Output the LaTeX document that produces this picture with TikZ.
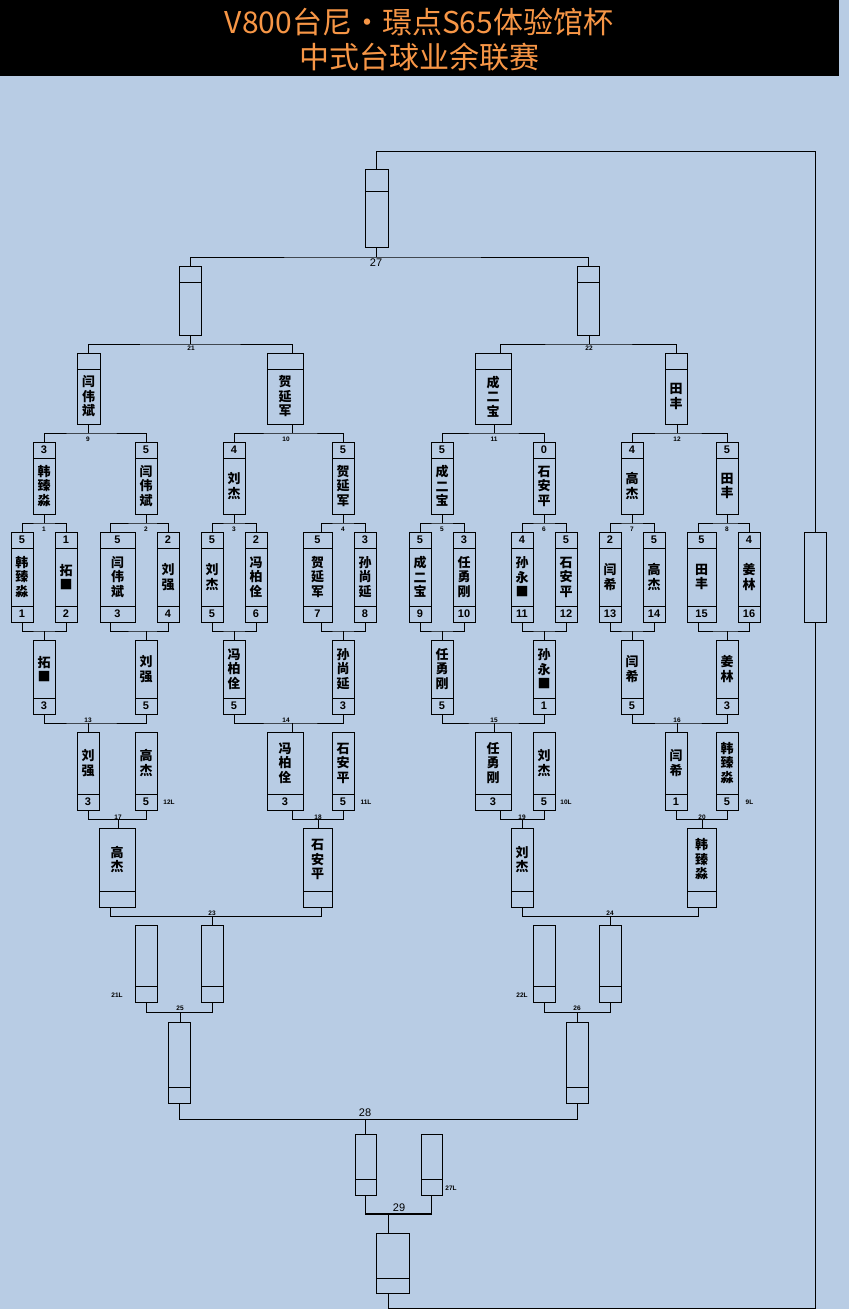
\documentclass[tikz,border=0pt]{standalone}
\usepackage{fontspec}
\setmainfont{Liberation Sans}
\newfontfamily\cjk{Noto Sans CJK SC}
\usetikzlibrary{positioning}
\definecolor{paleblue}{RGB}{184,204,228}
\definecolor{titleorange}{RGB}{247,150,70}

\begin{document}
\begin{tikzpicture}[
  x=1pt,y=-1pt,
  cell/.style={draw,line width=1pt,outer sep=0pt,inner sep=0pt,minimum height=16,font=\bfseries\fontsize{11}{12}\selectfont},
  who/.style={draw,line width=1pt,outer sep=0pt,inner sep=0pt,align=center,font=\cjk\bfseries\fontsize{13}{14.5}\selectfont},
  tag/.style={inner sep=0pt,font=\bfseries\fontsize{6.5}{7}\selectfont},
  bigtag/.style={inner sep=0pt,font=\fontsize{11}{12}\selectfont},
  headline/.style={inner sep=0pt,align=center,text=titleorange,font=\cjk\fontsize{30}{35}\selectfont},
  wire/.style={line width=1pt}
]
\useasboundingbox (0,0) rectangle (849,1309);
\fill[paleblue] (0,0) rectangle (849,1309);
\fill[black] (0,0) rectangle (839,76);
\node[headline] (head) at (419,39.5) {V800台尼•璟点S65体验馆杯\\中式台球业余联赛};

% first round: score / name / seed
\foreach \i/\xc/\w/\sc/\nm in {1/22/22/5/{韩\\臻\\淼},2/66/22/1/{拓\\■},3/117.5/35/5/{闫\\伟\\斌},4/168/22/2/{刘\\强},
  5/212/22/5/{刘\\杰},6/256/22/2/{冯\\柏\\佺},7/317.5/29/5/{贺\\延\\军},8/365/22/3/{孙\\尚\\延},
  9/420/22/5/{成\\二\\宝},10/464/22/3/{任\\勇\\刚},11/522/22/4/{孙\\永\\■},12/566/22/5/{石\\安\\平},
  13/610/22/2/{闫\\希},14/654/22/5/{高\\杰},15/701.5/29/5/{田\\丰},16/749/22/4/{姜\\林}}{
  \node[cell,minimum width=\w] (rs\i) at (\xc,540) {\sc};
  \node[who,minimum width=\w,minimum height=58,below=0pt of rs\i] (rn\i) {\nm};
  \node[cell,minimum width=\w,below=0pt of rn\i] (rd\i) {\i};
}

% winners side
\foreach \i/\xc/\sc/\nm in {1/44/3/{韩\\臻\\淼},2/146/5/{闫\\伟\\斌},3/234/4/{刘\\杰},4/343/5/{贺\\延\\军},
  5/442/5/{成\\二\\宝},6/544/0/{石\\安\\平},7/632/4/{高\\杰},8/727/5/{田\\丰}}{
  \node[cell,minimum width=22] (ws\i) at (\xc,450) {\sc};
  \node[who,minimum width=22,minimum height=56,below=0pt of ws\i] (wn\i) {\nm};
}
\foreach \i/\xc/\w/\nm in {9/88.5/23/{闫\\伟\\斌},10/285/36/{贺\\延\\军},11/493/36/{成\\二\\宝},12/676/22/{田\\丰}}{
  \node[cell,minimum width=\w] (ts\i) at (\xc,361) {};
  \node[who,minimum width=\w,minimum height=55,below=0pt of ts\i] (tn\i) {\nm};
}
\foreach \i/\xc in {21/190,22/588}{
  \node[cell,minimum width=22] (ss\i) at (\xc,274) {};
  \node[who,minimum width=22,minimum height=53,below=0pt of ss\i] (sn\i) {};
}
\node[cell,minimum width=23,minimum height=22] (cs) at (376.5,180) {};
\node[who,minimum width=23,minimum height=56,below=0pt of cs] (cn) {};
\node[who,minimum width=22,minimum height=90] (back) at (815,577) {};

% losers side: name / score
\foreach \i/\xc/\sc/\nm in {1/44/3/{拓\\■},2/146/5/{刘\\强},3/234/5/{冯\\柏\\佺},4/343/3/{孙\\尚\\延},
  5/442/5/{任\\勇\\刚},6/544/1/{孙\\永\\■},7/632/5/{闫\\希},8/727/3/{姜\\林}}{
  \node[who,minimum width=22,minimum height=58] (ln\i) at (\xc,669) {\nm};
  \node[cell,minimum width=22,below=0pt of ln\i] (lb\i) {\sc};
}
\foreach \i/\xc/\w/\sc/\nm in {1/88/22/3/{刘\\强},2/146/22/5/{高\\杰},3/285/36/3/{冯\\柏\\佺},4/343/22/5/{石\\安\\平},
  5/493/36/3/{任\\勇\\刚},6/544/22/5/{刘\\杰},7/676/22/1/{闫\\希},8/727/22/5/{韩\\臻\\淼}}{
  \node[who,minimum width=\w,minimum height=62] (mn\i) at (\xc,763) {\nm};
  \node[cell,minimum width=\w,below=0pt of mn\i] (mb\i) {\sc};
}
\foreach \i/\xc/\w/\nm in {1/117/36/{高\\杰},2/317.5/29/{石\\安\\平},3/522/22/{刘\\杰},4/701.5/29/{韩\\臻\\淼}}{
  \node[who,minimum width=\w,minimum height=63] (kn\i) at (\xc,859.5) {\nm};
  \node[cell,minimum width=\w,below=0pt of kn\i] (kb\i) {};
}
\foreach \i/\xc in {1/146,2/212,3/544,4/610}{
  \node[who,minimum width=22,minimum height=61] (qn\i) at (\xc,955.5) {};
  \node[cell,minimum width=22,below=0pt of qn\i] (qb\i) {};
}
\foreach \i/\xc in {1/179.5,2/577.5}{
  \node[who,minimum width=22,minimum height=65] (pn\i) at (\xc,1054.5) {};
  \node[cell,minimum width=22,below=0pt of pn\i] (pb\i) {};
}
\foreach \i/\xc in {1/365.5,2/431.5}{
  \node[who,minimum width=21,minimum height=45] (gn\i) at (\xc,1156.5) {};
  \node[cell,minimum width=21,below=0pt of gn\i] (gb\i) {};
}
\node[who,minimum width=33,minimum height=45] (zn) at (392.5,1255.5) {};
\node[cell,minimum width=33,minimum height=15,below=0pt of zn] (zb) {};

% match lines
\foreach \m/\a/\sa/\b/\sb/\p/\x/\y in {
  1/rs1.north/0/rs2.north/0/wn1.south/44/523, 2/rs3.north/-7.5/rs4.north/0/wn2.south/146/523,
  3/rs5.north/0/rs6.north/0/wn3.south/234/523, 4/rs7.north/3.5/rs8.north/0/wn4.south/343/523,
  5/rs9.north/0/rs10.north/0/wn5.south/442/523, 6/rs11.north/0/rs12.north/0/wn6.south/544/523,
  7/rs13.north/0/rs14.north/0/wn7.south/632/523, 8/rs15.north/-3.5/rs16.north/0/wn8.south/727/523,
  9/ws1.north/0/ws2.north/0/tn9.south/88/433, 10/ws3.north/0/ws4.north/0/tn10.south/292/433,
  11/ws5.north/0/ws6.north/0/tn11.south/494/433, 12/ws7.north/0/ws8.north/0/tn12.south/677/433,
  21/ts9.north/0/ts10.north/7/sn21.south/190/344, 22/ts11.north/7/ts12.north/0/sn22.south/589/344,
  27/ss21.north/0/ss22.north/0/cn.south/376/257,
  d1/rd1.south/0/rd2.south/0/ln1.north/44/631, d2/rd3.south/-7.5/rd4.south/0/ln2.north/146/631,
  d3/rd5.south/0/rd6.south/0/ln3.north/234/631, d4/rd7.south/3.5/rd8.south/0/ln4.north/343/631,
  d5/rd9.south/0/rd10.south/0/ln5.north/442/631, d6/rd11.south/0/rd12.south/0/ln6.north/544/631,
  d7/rd13.south/0/rd14.south/0/ln7.north/632/631, d8/rd15.south/-3.5/rd16.south/0/ln8.north/727/631,
  13/lb1.south/0/lb2.south/0/mn1.north/88/723, 14/lb3.south/0/lb4.south/0/mn3.north/292/723,
  15/lb5.south/0/lb6.south/0/mn5.north/494/723, 16/lb7.south/0/lb8.south/0/mn7.north/677/723,
  17/mb1.south/0/mb2.south/0/kn1.north/118/819, 18/mb3.south/7/mb4.south/0/kn2.north/318/819,
  19/mb5.south/7/mb6.south/0/kn3.north/522/819, 20/mb7.south/0/mb8.south/0/kn4.north/702/819,
  23/kb1.south/-7/kb2.south/3.5/qn2.north/212/916, 24/kb3.south/0/kb4.south/-3.5/qn4.north/610/916,
  25/qb1.south/0/qb2.south/0/pn1.north/180/1012, 26/qb3.south/0/qb4.south/0/pn2.north/577/1012,
  28/pb1.south/0/pb2.south/0/gn1.north/365/1119, 29/gb1.south/0/gb2.south/0/zn.north/388/1214}{
  \coordinate (j\m) at (\x,\y);
  \draw[wire] ([xshift=\sa]\a) |- (j\m) -| ([xshift=\sb]\b);
  \draw[wire] (j\m) -- (j\m |- \p);
}
\draw[line width=2pt] (gb1.south |- j29) -- (gb2.south |- j29);

% round trip to the top
\coordinate (loopB) at (815,1308);
\coordinate (loopT) at (815,151);
\draw[wire] (j29 |- zb.south) |- (loopB) -- (back.south);
\draw[wire] (back.north) -- (loopT) -| (cs.north);

% match numbers
\foreach \m/\x/\y in {1/44/529,2/146/529,3/234/529,4/343/529,5/442/529,6/544/529,7/632/529,8/727/529,
  9/88/439,10/286/439,11/494/439,12/677/439,21/191/348.5,22/589/348.5,
  13/88/720,14/286/720,15/494/720,16/677/720,17/118/817,18/318/817,19/522/817,20/702/817,
  23/212/913,24/610/913,25/180/1008,26/577/1008}
  \node[tag] (t\m) at (\x,\y) {\m};
\node[bigtag] (t27) at (376,263) {27};
\node[bigtag] (t28) at (365,1113) {28};
\node[bigtag] (t29) at (399,1208) {29};
\foreach \n/\x/\y in {12L/169/802,11L/366/802,10L/566/802,9L/749.5/802,21L/117/995,22L/522/995,27L/451/1188}
  \node[tag] (x\n) at (\x,\y) {\n};
\end{tikzpicture}
\end{document}
